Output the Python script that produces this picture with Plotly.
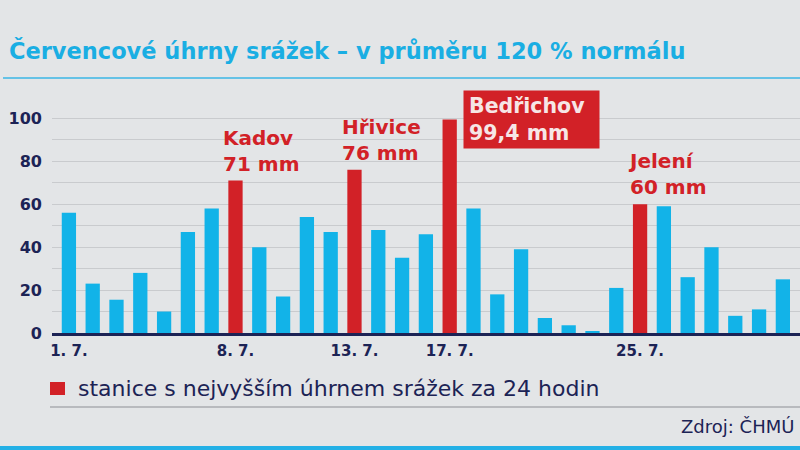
import plotly.graph_objects as go

days = list(range(1, 32))
day_labels = {1: "1. 7.", 8: "8. 7.", 13: "13. 7.", 17: "17. 7.", 25: "25. 7."}
rain = [56, 23, 15.5, 28, 10, 47, 58, 71, 40, 17, 54, 47, 76, 48, 35, 46,
        99.4, 58, 18, 39, 7, 3.6, 0.5, 21, 60, 59, 26, 40, 8, 11, 25]
top_days = [8, 13, 17, 25]
top_names = ["Kadov", "Hřivice", "Bedřichov", "Jelení"]
top_labels = ["71 mm", "76 mm", "99,4 mm", "60 mm"]
y_ticks = [0, 20, 40, 60, 80, 100]

BLUE = "#12b3e8"
RED = "#d22127"
NAVY = "#1c2355"
BG = "#e3e5e7"

colors = [RED if d in top_days else BLUE for d in days]

fig = go.Figure()
fig.add_trace(go.Bar(x=days, y=rain, marker=dict(color=colors, line=dict(width=0)),
                     width=0.6, showlegend=False, hoverinfo="skip"))

for d, name, lab in zip(top_days, top_names, top_labels):
    v = rain[days.index(d)]
    if name == "Bedřichov":
        fig.add_annotation(x=d, y=v, xref="x", yref="y", text=f"<b>{name}<br>{lab}</b>",
                           showarrow=False, xanchor="left", yanchor="top",
                           xshift=13, yshift=30, align="left", valign="middle",
                           width=125, height=47,
                           font=dict(family="DejaVu Sans", size=20.5, color="#f6e6e6"),
                           bgcolor=RED, borderpad=5)
    else:
        fig.add_annotation(x=d, y=v, xref="x", yref="y", text=f"<b>{name}<br>{lab}</b>",
                           showarrow=False, xanchor="left", yanchor="bottom",
                           xshift=-14, yshift=3, align="left",
                           font=dict(family="DejaVu Sans", size=20, color=RED))

fig.update_layout(
    width=800, height=450,
    margin=dict(l=52, r=0, t=99, b=117),
    paper_bgcolor=BG, plot_bgcolor="rgba(0,0,0,0)",
    bargap=0.4,
    xaxis=dict(range=[0.29, 31.72], tickmode="array",
               tickvals=list(day_labels.keys()),
               ticktext=[f"<b>{t}</b>" for t in day_labels.values()],
               tickfont=dict(family="DejaVu Sans", size=15, color=NAVY),
               showgrid=False, zeroline=False, showline=True, linecolor=NAVY, linewidth=3,
               ticks="", ticklabelstandoff=2),
    yaxis=dict(range=[0, 109], tickmode="array", tickvals=y_ticks,
               ticktext=[f"<b>{t}</b>" for t in y_ticks],
               tickfont=dict(family="DejaVu Sans", size=16, color=NAVY),
               showgrid=True, gridcolor="#c9cbce", gridwidth=1, zeroline=False,
               minor=dict(tickmode="array", tickvals=[10, 30, 50, 70, 90],
                          showgrid=True, gridcolor="#c9cbce", gridwidth=1),
               ticks="", ticklabelstandoff=9),
    font=dict(family="DejaVu Sans"),
)

PW = 748.0
PH = 234.0
# title
fig.add_annotation(xref="paper", yref="paper", x=-45/PW, y=1 + (99 - 50) / PH,
                   text="<b>Červencové úhrny srážek – v průměru 120 % normálu</b>",
                   showarrow=False, xanchor="left", yanchor="middle",
                   font=dict(family="DejaVu Sans", size=22.5, color="#1aaee3"))
# line under title
fig.add_shape(type="line", xref="paper", yref="paper", x0=-49/PW, x1=1,
              y0=1 + (99 - 78) / PH, y1=1 + (99 - 78) / PH,
              line=dict(color="#3bb6e6", width=1.5))
# legend square + text
fig.add_shape(type="rect", xref="paper", yref="paper", x0=-2/PW, x1=13/PW,
              y0=-(382 - 333) / PH, y1=-(395 - 333) / PH,
              fillcolor=RED, line=dict(width=0))
fig.add_annotation(xref="paper", yref="paper", x=24/PW, y=-(388 - 333) / PH,
                   text="stanice s nejvyšším úhrnem srážek za 24 hodin",
                   showarrow=False, xanchor="left", yanchor="middle",
                   font=dict(family="DejaVu Sans", size=22, color=NAVY))
# gray separator
fig.add_shape(type="line", xref="paper", yref="paper", x0=-2/PW, x1=1,
              y0=-(407 - 333) / PH, y1=-(407 - 333) / PH,
              line=dict(color="#8d8f96", width=1.2))
# source
fig.add_annotation(xref="paper", yref="paper", x=(796 - 52) / PW, y=-(426 - 333) / PH,
                   text="Zdroj: ČHMÚ", showarrow=False, xanchor="right", yanchor="middle",
                   font=dict(family="DejaVu Sans", size=18, color=NAVY))
# bottom blue stripe
fig.add_shape(type="rect", xref="paper", yref="paper", x0=-52/PW, x1=1,
              y0=-(446 - 333) / PH, y1=-(452 - 333) / PH,
              fillcolor="#23b0e6", line=dict(width=0))

fig.write_html("out.html", config={"displayModeBar": False},
               post_script="document.body.style.margin='0';document.body.style.background='%s';" % BG)
